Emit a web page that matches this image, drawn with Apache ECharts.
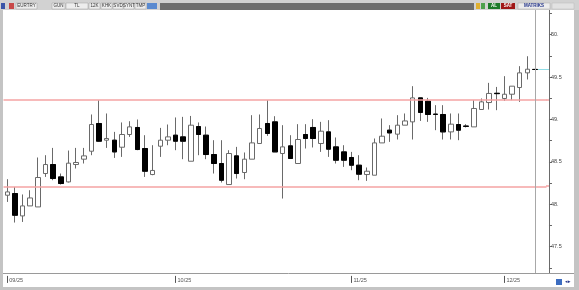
<!DOCTYPE html>
<html><head><meta charset="utf-8">
<script src="https://cdn.jsdelivr.net/npm/echarts@6/dist/echarts.min.js"></script>
<style>html,body{margin:0;padding:0;background:#fff;overflow:hidden}#c{width:579px;height:290px}</style>
</head><body><div id="c"></div>
<script>
// ---- data ----
const dates = [
 '2025-09-01','2025-09-02','2025-09-03','2025-09-04','2025-09-05','2025-09-08','2025-09-09','2025-09-10','2025-09-11','2025-09-12',
 '2025-09-15','2025-09-16','2025-09-17','2025-09-18','2025-09-19','2025-09-22','2025-09-23','2025-09-24','2025-09-25','2025-09-26',
 '2025-09-29','2025-09-30','2025-10-01','2025-10-02','2025-10-03','2025-10-06','2025-10-07','2025-10-08','2025-10-09','2025-10-10',
 '2025-10-13','2025-10-14','2025-10-15','2025-10-16','2025-10-17','2025-10-20','2025-10-21','2025-10-22','2025-10-23','2025-10-24',
 '2025-10-27','2025-10-28','2025-10-29','2025-10-30','2025-10-31','2025-11-03','2025-11-04','2025-11-05','2025-11-06','2025-11-07',
 '2025-11-10','2025-11-11','2025-11-12','2025-11-13','2025-11-14','2025-11-17','2025-11-18','2025-11-19','2025-11-20','2025-11-21',
 '2025-11-24','2025-11-25','2025-11-26','2025-11-27','2025-11-28','2025-12-01','2025-12-02','2025-12-03','2025-12-04','2025-12-05'
];
const openV = [48.107,48.127,47.863,47.981,47.969,48.363,48.469,48.323,48.264,48.469,
 48.532,48.626,48.953,48.756,48.756,48.673,48.823,48.906,48.658,48.351,
 48.685,48.756,48.815,48.795,48.508,48.917,48.815,48.587,48.481,48.233,
 48.571,48.375,48.532,48.717,48.953,48.972,48.599,48.689,48.481,48.823,
 48.906,48.717,48.854,48.677,48.618,48.552,48.461,48.351,48.343,48.724,
 48.874,48.827,48.933,48.972,49.255,49.216,49.063,49.059,48.854,48.941,
 48.922,48.913,49.118,49.200,49.309,49.248,49.298,49.377,49.550,49.590];
const closeV = [48.146,47.871,47.981,48.075,48.316,48.469,48.304,48.245,48.485,48.493,
 48.571,48.941,48.744,48.776,48.618,48.823,48.913,48.646,48.390,48.399,
 48.756,48.795,48.744,48.744,48.933,48.823,48.587,48.481,48.284,48.599,
 48.363,48.532,48.724,48.894,48.835,48.618,48.677,48.540,48.764,48.776,
 48.776,48.862,48.650,48.520,48.520,48.461,48.355,48.390,48.724,48.803,
 48.842,48.933,48.983,49.255,49.083,49.059,49.060,48.854,48.945,48.874,
 48.919,49.130,49.208,49.307,49.305,49.298,49.393,49.550,49.593,49.590];
const lowV = [48.028,47.785,47.792,47.981,47.969,48.323,48.284,48.233,48.257,48.422,
 48.481,48.579,48.736,48.665,48.547,48.559,48.795,48.638,48.323,48.343,
 48.559,48.697,48.638,48.532,48.508,48.579,48.532,48.363,48.257,48.233,
 48.304,48.296,48.532,48.717,48.807,48.618,48.068,48.540,48.481,48.658,
 48.670,48.618,48.559,48.481,48.441,48.402,48.284,48.276,48.343,48.724,
 48.736,48.764,48.933,48.764,48.983,48.972,48.874,48.764,48.764,48.756,
 48.906,48.913,49.118,49.118,49.110,49.219,49.228,49.208,49.472,49.590];
const highV = [48.296,48.205,48.116,48.166,48.552,48.579,48.665,48.363,48.634,48.665,
 48.665,49.059,49.228,49.071,48.854,48.965,48.980,49.000,48.815,48.697,
 48.901,48.941,49.024,49.031,49.042,48.965,48.917,48.756,48.756,48.638,
 48.677,48.611,49.051,49.059,49.228,49.039,48.933,48.815,48.945,48.945,
 49.004,48.972,48.992,48.788,48.697,48.618,48.579,48.434,48.776,49.012,
 48.933,49.051,49.071,49.393,49.255,49.255,49.169,49.169,49.071,49.071,
 48.945,49.228,49.248,49.432,49.384,49.511,49.393,49.629,49.746,49.590];
const levels = [49.228, 48.21];   // horizontal red lines
const yMin = 47.25, yMax = 50.25, yStep = 0.25;
const toolbarItems = [
 {x:16,w:21,t:'EURTRY'},{x:52,w:13,t:'GUN'},{x:66,w:22,t:'TL'},{x:89,w:11,t:'12K'},
 {x:101,w:11,t:'KHK'},{x:113,w:10,t:'SVD'},{x:124,w:10,t:'SYNT'},{x:135,w:11,t:'TMP'}
];

// ---- build ----
const cats = dates.concat(['']);
const allData = dates.map((d,i)=>[openV[i],closeV[i],lowV[i],highV[i]]);
const downData = dates.map((d,i)=> closeV[i] <= openV[i] ? [openV[i],closeV[i],closeV[i],openV[i]] : '-');
const lastIdx = dates.length-1;
const lastVal = closeV[lastIdx];
const isMonthStart = (idx,val)=> val!=='' && val!==undefined && (idx===0 || dates[idx-1].slice(5,7)!==String(val).slice(5,7));

const graphic = [
 {type:'rect',shape:{x:0,y:0,width:579,height:10},style:{fill:'#d2d2d2'},silent:true},
 {type:'rect',shape:{x:0,y:10,width:3,height:280},style:{fill:'#c4c4c4'},silent:true},
 {type:'rect',shape:{x:574,y:10,width:5,height:280},style:{fill:'#c4c4c4'},silent:true},
 {type:'rect',shape:{x:0,y:287,width:579,height:3},style:{fill:'#c4c4c4'},silent:true},
 {type:'line',shape:{x1:3,y1:273.5,x2:574,y2:273.5},style:{stroke:'#9a9a9a',lineWidth:1},silent:true},
 {type:'line',shape:{x1:549.5,y1:10,x2:549.5,y2:273},style:{stroke:'#6a6a6a',lineWidth:1},silent:true},
 {type:'rect',shape:{x:1,y:3,width:4,height:6},style:{fill:'#3a55a8'},silent:true},
 {type:'rect',shape:{x:9,y:3,width:5,height:6},style:{fill:'#c84848'},silent:true},
 {type:'rect',shape:{x:147,y:3,width:10,height:6},style:{fill:'#5a8ad0'},silent:true},
 {type:'rect',shape:{x:160,y:3,width:314,height:7},style:{fill:'#6e6e6e'},silent:true},
 {type:'rect',shape:{x:476,y:3,width:4,height:6},style:{fill:'#e0b030'},silent:true},
 {type:'rect',shape:{x:481,y:3,width:4,height:6},style:{fill:'#4ea04e'},silent:true},
 {type:'rect',shape:{x:488,y:3,width:12,height:6},style:{fill:'#1d7a2a'},silent:true},
 {type:'text',x:494,y:6,style:{text:'AL',fill:'#fff',font:'bold 4.5px Arial',align:'center',verticalAlign:'middle'},silent:true},
 {type:'rect',shape:{x:501,y:3,width:14,height:6},style:{fill:'#a01818'},silent:true},
 {type:'text',x:508,y:6,style:{text:'SAT',fill:'#fff',font:'bold 4.5px Arial',align:'center',verticalAlign:'middle'},silent:true},
 {type:'rect',shape:{x:518,y:3,width:32,height:6},style:{fill:'#ececec',stroke:'#aaa',lineWidth:0.5},silent:true},
 {type:'text',x:534,y:6,style:{text:'MATRIKS',fill:'#23348a',font:'bold 4.5px Arial',align:'center',verticalAlign:'middle'},silent:true},
 {type:'rect',shape:{x:552,y:3,width:22,height:6},style:{fill:'#e2e2e2',stroke:'#bbb',lineWidth:0.5},silent:true},
 {type:'rect',shape:{x:556,y:279,width:6,height:6},style:{fill:'#3c6cc0'},silent:true},
 {type:'text',x:568,y:282,style:{text:'◂▸',fill:'#23348a',font:'5px Arial',align:'center',verticalAlign:'middle'},silent:true}
];
toolbarItems.forEach(it=>{
  graphic.push({type:'rect',shape:{x:it.x,y:3,width:it.w,height:6},style:{fill:'#ededed',stroke:'#a0a0a0',lineWidth:0.5},silent:true});
  graphic.push({type:'text',x:it.x+it.w/2,y:6,style:{text:it.t,fill:'#333',font:'4.5px Arial',align:'center',verticalAlign:'middle'},silent:true});
});

const chart = echarts.init(document.getElementById('c'), null, {renderer:'canvas'});
chart.setOption({
  animation:false,
  backgroundColor:'#ffffff',
  grid:{left:3.48, top:13.5, width:543, height:254.4, containLabel:false},
  xAxis:{
    type:'category', data:cats, boundaryGap:true, position:'bottom', offset:8,
    axisLine:{show:false},
    axisTick:{show:true, length:7, alignWithLabel:true, interval:isMonthStart, lineStyle:{color:'#555',width:1}},
    axisLabel:{show:true, interval:isMonthStart, margin:2, align:'left', padding:[0,0,0,2],
      fontSize:5.5, color:'#555', fontFamily:'Arial',
      formatter:(v)=> v ? v.slice(5,7)+'/'+v.slice(2,4) : ''},
    splitLine:{show:false}
  },
  yAxis:{
    type:'value', position:'right', offset:2.5, min:yMin, max:yMax, interval:yStep, scale:true,
    axisLine:{show:false},
    axisTick:{show:true, length:3, inside:false, lineStyle:{color:'#666'}},
    axisLabel:{show:true, margin:2, fontSize:5.5, color:'#444', fontFamily:'Arial',
      formatter:(v)=>{ const d=v*2; if(Math.abs(d-Math.round(d))>1e-6) return ''; return Number.isInteger(Math.round(v*1000)/1000) ? Math.round(v)+'.' : (Math.round(v*10)/10).toString(); }},
    splitLine:{show:false}
  },
  series:[
    {type:'candlestick', name:'all', data:allData, barWidth:5,
     itemStyle:{color:'#ffffff', color0:'#ffffff', borderColor:'#6a6a6a', borderColor0:'#6a6a6a', borderColorDoji:'#6a6a6a', borderWidth:1},
     markLine:{silent:true, symbol:'none', animation:false, label:{show:false},
       data:[
         {yAxis:levels[0], lineStyle:{color:'#f4a3a3', width:1.5, type:'solid'}},
         {yAxis:levels[1], lineStyle:{color:'#f4a3a3', width:1.5, type:'solid'}}
       ]}
    },
    {type:'candlestick', name:'down', data:downData, barWidth:5,
     itemStyle:{color:'#000', color0:'#000', borderColor:'#000', borderColor0:'#000', borderColorDoji:'#000', borderWidth:1}
    }
  ],
  graphic:graphic
});
// cursor line at the last candle and last-price marker, positioned through the axes
const cx = Math.round(chart.convertToPixel({xAxisIndex:0}, dates[lastIdx])) + 0.5;
const cy = Math.round(chart.convertToPixel({yAxisIndex:0}, lastVal)) + 0.5;
const lvl = levels.map(v=>Math.round(chart.convertToPixel({yAxisIndex:0}, v)));
graphic.push({type:'line',z:50,shape:{x1:cx,y1:10,x2:cx,y2:273},style:{stroke:'#a8a8a8',lineWidth:1},silent:true});
graphic.push({type:'line',z:60,shape:{x1:cx+2.5,y1:cy,x2:549,y2:cy},style:{stroke:'#8fdde6',lineWidth:1},silent:true});
lvl.forEach(y=>graphic.push({type:'line',z:40,shape:{x1:546,y1:y,x2:549,y2:y},style:{stroke:'#f4a3a3',lineWidth:1.5},silent:true}));
chart.setOption({graphic:graphic}, {replaceMerge:['graphic']});
</script></body></html>
